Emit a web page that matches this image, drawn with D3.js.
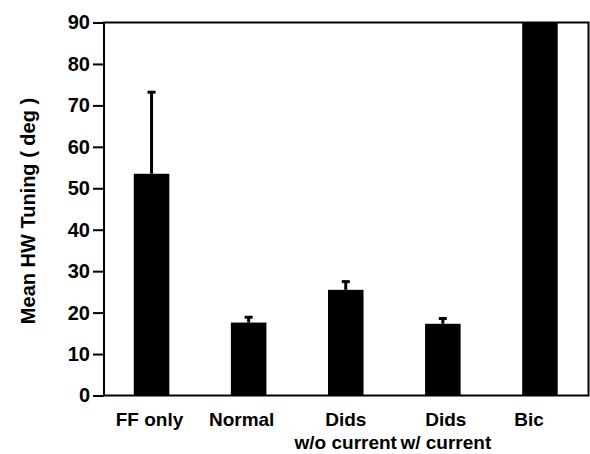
<!DOCTYPE html>
<html><head><meta charset="utf-8">
<script src="https://cdn.jsdelivr.net/npm/d3@7"></script>
<style>html,body{margin:0;padding:0;background:#fff;} svg{display:block;}</style>
</head><body>
<svg id="chart" width="590" height="454"></svg>
<script>
// ---- data ----
const categories = ["FF only", "Normal", "Dids\nw/o current", "Dids\nw/ current", "Bic"];
const means = [53.5, 17.6, 25.5, 17.3, 90];
const errorTops = [73.3, 19.0, 27.6, 18.7, null];
const yTicks = [0, 10, 20, 30, 40, 50, 60, 70, 80, 90];
const yTitle = "Mean HW Tuning ( deg )";

// ---- layout ----
const W = 590, H = 454;
const plotLeft = 104, plotRight = 588.5, plotTop = 22.5, plotBottom = 395.5;
const labelNudge = [-2, -7, 0, 3, -11];
const font = "'Liberation Sans', Arial, Helvetica, sans-serif";

const svg = d3.select("#chart");
svg.append("rect").attr("width", W).attr("height", H).attr("fill", "#fff");

const x = d3.scaleBand().domain(categories).range([103, plotRight])
  .paddingInner(0.634).paddingOuter(0.317);
const y = d3.scaleLinear().domain([0, 90]).range([plotBottom, plotTop]);

// bars
const data = categories.map((c, i) => ({c, i, m: means[i], e: errorTops[i]}));
svg.append("g").selectAll("rect").data(data).join("rect")
  .attr("x", d => x(d.c)).attr("width", x.bandwidth())
  .attr("y", d => y(Math.min(d.m, 90))).attr("height", d => plotBottom - y(Math.min(d.m, 90)))
  .attr("fill", "#000");

// error bars
const eb = svg.append("g").selectAll("g").data(data.filter(d => d.e != null)).join("g");
eb.append("line")
  .attr("x1", d => x(d.c) + x.bandwidth() / 2).attr("x2", d => x(d.c) + x.bandwidth() / 2)
  .attr("y1", d => y(d.m)).attr("y2", d => y(d.e))
  .attr("stroke", "#000").attr("stroke-width", 3);
eb.append("rect")
  .attr("x", d => x(d.c) + x.bandwidth() / 2 - 4).attr("width", 8)
  .attr("y", d => y(d.e) - 1).attr("height", 3).attr("fill", "#000");

// frame
svg.append("rect").attr("x", plotLeft).attr("y", plotTop)
  .attr("width", plotRight - plotLeft).attr("height", plotBottom - plotTop)
  .attr("fill", "none").attr("stroke", "#000").attr("stroke-width", 2);

// y axis
const ya = svg.append("g").attr("transform", `translate(${plotLeft},0)`)
  .call(d3.axisLeft(y).tickValues(yTicks).tickSize(11).tickPadding(3).tickSizeOuter(0));
ya.select(".domain").remove();
ya.selectAll(".tick line").attr("stroke", "#000").attr("stroke-width", 2);
ya.selectAll(".tick text").attr("font-family", font).attr("font-size", 20)
  .attr("font-weight", "bold").attr("fill", "#000");

// x labels
const xl = svg.append("g").selectAll("text").data(data).join("text")
  .attr("y", 426)
  .attr("text-anchor", "middle").attr("font-family", font).attr("font-size", 19)
  .attr("font-weight", "bold").attr("fill", "#000");
xl.each(function(d) {
  const cx = x(d.c) + x.bandwidth() / 2 + labelNudge[d.i];
  const t = d3.select(this);
  d.c.split("\n").forEach((ln, i) => {
    t.append("tspan").attr("x", cx).attr("dy", i === 0 ? 0 : 23).text(ln);
  });
});

// y title
svg.append("text").attr("transform", "translate(35,211) rotate(-90)")
  .attr("text-anchor", "middle").attr("font-family", font).attr("font-size", 20)
  .attr("font-weight", "bold").attr("fill", "#000").text(yTitle);
</script>
</body></html>
